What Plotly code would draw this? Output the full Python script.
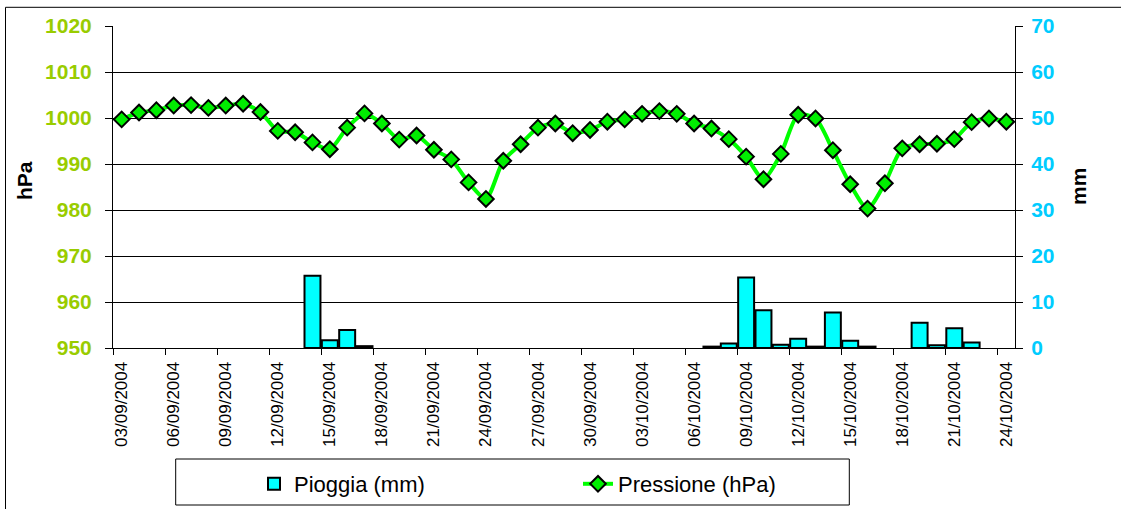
import plotly.graph_objects as go

dates = [
    "03/09/2004", "04/09/2004", "05/09/2004", "06/09/2004", "07/09/2004", "08/09/2004",
    "09/09/2004", "10/09/2004", "11/09/2004", "12/09/2004", "13/09/2004", "14/09/2004",
    "15/09/2004", "16/09/2004", "17/09/2004", "18/09/2004", "19/09/2004", "20/09/2004",
    "21/09/2004", "22/09/2004", "23/09/2004", "24/09/2004", "25/09/2004", "26/09/2004",
    "27/09/2004", "28/09/2004", "29/09/2004", "30/09/2004", "01/10/2004", "02/10/2004",
    "03/10/2004", "04/10/2004", "05/10/2004", "06/10/2004", "07/10/2004", "08/10/2004",
    "09/10/2004", "10/10/2004", "11/10/2004", "12/10/2004", "13/10/2004", "14/10/2004",
    "15/10/2004", "16/10/2004", "17/10/2004", "18/10/2004", "19/10/2004", "20/10/2004",
    "21/10/2004", "22/10/2004", "23/10/2004", "24/10/2004",
]

pressione = [
    999.7, 1001.2, 1001.7, 1002.7, 1002.8, 1002.2, 1002.7, 1003.1, 1001.3, 997.2,
    996.9, 994.7, 993.2, 997.9, 1001.0, 998.8, 995.3, 996.2, 993.1, 991.0,
    986.0, 982.4, 990.7, 994.3, 997.9, 998.8, 996.7, 997.4, 999.2, 999.7,
    1000.9, 1001.5, 1000.9, 998.8, 997.7, 995.4, 991.6, 986.7, 992.2, 1000.7,
    999.9, 993.0, 985.6, 980.3, 985.8, 993.4, 994.3, 994.4, 995.4, 999.1,
    999.9, 999.2,
]

pioggia = [
    0, 0, 0, 0, 0, 0, 0, 0, 0, 0,
    0, 15.7, 1.7, 3.9, 0.4, 0, 0, 0, 0, 0,
    0, 0, 0, 0, 0, 0, 0, 0, 0, 0,
    0, 0, 0, 0, 0.3, 1.0, 15.3, 8.2, 0.7, 2.0,
    0.3, 7.7, 1.6, 0.3, 0, 0, 5.5, 0.6, 4.3, 1.2,
    0, 0,
]

hpa_ticks = [950, 960, 970, 980, 990, 1000, 1010, 1020]
mm_ticks = [0, 10, 20, 30, 40, 50, 60, 70]

FONT = "Liberation Sans, Arial, sans-serif"

fig = go.Figure()

fig.add_trace(go.Bar(
    x=dates,
    y=[v if v > 0 else None for v in pioggia],
    name="Pioggia (mm)",
    marker=dict(color="#00FFFF", line=dict(color="black", width=2)),
    yaxis="y",
))

fig.add_trace(go.Scatter(
    x=dates,
    y=pressione,
    name="Pressione (hPa)",
    mode="lines+markers",
    line=dict(color="#00FF00", width=4, shape="spline", smoothing=0.7),
    marker=dict(symbol="diamond", size=12, color="#00EE00",
                line=dict(color="black", width=2)),
    yaxis="y2",
))

W, H = 1121, 509
L, R, T, B = 113, 106, 26, 161
pw, ph = W - L - R, H - T - B


def px(xp):
    return (xp - L) / pw


def py(yp):
    return (H - B - yp) / ph


fig.update_layout(
    width=W, height=H,
    margin=dict(l=L, r=R, t=T, b=B, pad=0, autoexpand=False),
    paper_bgcolor="white",
    plot_bgcolor="white",
    font=dict(family=FONT, color="black"),
    bargap=0.08,
    showlegend=True,
    legend=dict(
        orientation="h",
        x=px(254), xanchor="left",
        y=py(484), yanchor="middle",
        font=dict(size=22, family=FONT, color="black"),
        entrywidth=279, entrywidthmode="pixels",
        bgcolor="rgba(0,0,0,0)",
        borderwidth=0,
        traceorder="normal",
    ),
    xaxis=dict(
        type="category",
        tickmode="linear", tick0=0, dtick=3,
        tickson="boundaries",
        ticks="outside", ticklen=6, tickcolor="black", tickwidth=1,
        tickangle=-90,
        tickfont=dict(size=17, family=FONT, color="black"),
        showline=True, linecolor="black", linewidth=1,
        showgrid=False,
        range=[-0.5, len(dates) - 0.5],
        ticklabelstandoff=6,
        automargin=False,
    ),
    yaxis=dict(
        side="right",
        range=[0, 70],
        tickvals=mm_ticks,
        ticks="outside", ticklen=7, tickcolor="black",
        tickfont=dict(size=21, family=FONT, color="#00CCFF", weight="bold"),
        showline=True, linecolor="black", linewidth=1,
        showgrid=True, gridcolor="black", gridwidth=1,
        zeroline=False,
        ticklabelstandoff=4,
        automargin=False,
    ),
    yaxis2=dict(
        side="left",
        overlaying="y",
        range=[950, 1020],
        tickvals=hpa_ticks,
        ticks="outside", ticklen=7, tickcolor="black",
        tickfont=dict(size=21, family=FONT, color="#99CC00", weight="bold"),
        showline=True, linecolor="black", linewidth=1,
        showgrid=False,
        zeroline=False,
        ticklabelstandoff=9,
        automargin=False,
    ),
    shapes=[
        dict(type="rect", xref="paper", yref="paper",
             x0=px(5.5), x1=px(1130), y0=py(520), y1=py(7.3),
             line=dict(color="black", width=1), fillcolor="rgba(0,0,0,0)", layer="below"),
        dict(type="rect", xref="paper", yref="paper",
             x0=px(175.7), x1=px(849.3), y0=py(505), y1=py(459),
             line=dict(color="black", width=1), fillcolor="rgba(0,0,0,0)", layer="above"),
    ],
    annotations=[
        dict(text="<b>hPa</b>", xref="paper", yref="paper", x=px(24), y=py(181),
             showarrow=False, textangle=-90, font=dict(size=21, family=FONT, color="black"),
             xanchor="center", yanchor="middle"),
        dict(text="<b>mm</b>", xref="paper", yref="paper", x=px(1078), y=py(187),
             showarrow=False, textangle=-90, font=dict(size=21, family=FONT, color="black"),
             xanchor="center", yanchor="middle"),
    ],
)

fig.write_html(
    "out.html",
    config={"displayModeBar": False},
    post_script="document.body.style.margin='0px';document.body.style.overflow='hidden';",
)
